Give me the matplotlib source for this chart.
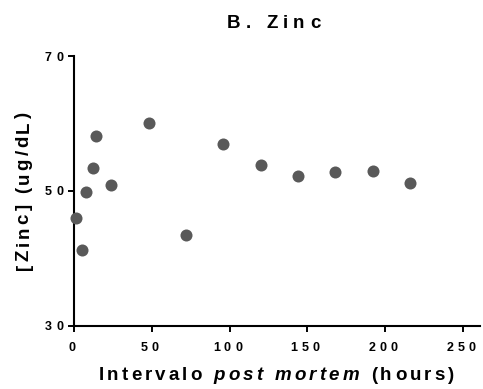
import matplotlib
matplotlib.use("Agg")
import matplotlib.pyplot as plt
from matplotlib.font_manager import FontProperties, findfont, get_font
from matplotlib.transforms import offset_copy, blended_transform_factory

plt.rcParams['font.family'] = ['Liberation Sans', 'DejaVu Sans']

# data
hours = [1, 5, 8, 12, 14, 24, 48, 72, 96, 120, 144, 168, 192, 216]
zinc = [45.9, 41.2, 49.9, 53.4, 58.2, 50.8, 60.0, 43.5, 56.9, 53.8, 52.2, 52.8, 53.0, 51.1]
xticks = [0, 50, 100, 150, 200, 250]
yticks = [30, 50, 70]
title = [('B. Zinc', 'normal')]
xlabel = [('Intervalo ', 'normal'), ('post mortem', 'italic'), (' (hours)', 'normal')]
ylabel = [('[Zinc] (ug/dL)', 'normal')]

PX = 72 / 100  # points per pixel


def advance(ch, prop):
    font = get_font(findfont(prop))
    font.set_size(prop.get_size_in_points(), 72)
    return font.load_char(ord(ch)).linearHoriAdvance / 65536


def spaced(fig, x, y, parts, trans, size, track, rotation=0, ha='center', dx=0, dy=0):
    # draw bold text letter by letter with extra tracking (Prism-like look)
    chars = []
    for s, style in parts:
        prop = FontProperties(family='Liberation Sans', weight='bold', style=style, size=size)
        for ch in s:
            chars.append((ch, prop, advance(ch, prop)))
    total = sum(a for _, _, a in chars) + track * (len(chars) - 1)
    if ha == 'center':
        pos = -(total + track) / 2
    elif ha == 'right':
        pos = -total
    else:
        pos = 0
    for ch, prop, a in chars:
        if rotation == 0:
            t = offset_copy(trans, fig=fig, x=pos + dx, y=dy, units='points')
        else:
            t = offset_copy(trans, fig=fig, x=dx, y=pos + dy, units='points')
        fig.text(x, y, ch, fontproperties=prop, transform=t, ha='left', va='baseline',
                 rotation=rotation, rotation_mode='anchor')
        pos += a + track


fig = plt.figure(figsize=(4.83, 3.89), dpi=100)
ax = fig.add_axes([74 / 483, 1 - 325.7 / 389, 406 / 483, 269.7 / 389])

ax.scatter(hours, zinc, s=75, color='#595959', linewidths=0, zorder=3, clip_on=False)

ax.set_xlim(0, 261)
ax.set_ylim(30, 70)
ax.set_xticks(xticks)
ax.set_yticks(yticks)
ax.tick_params(labelbottom=False, labelleft=False, width=1.4, length=4.5)

for s in ['top', 'right']:
    ax.spines[s].set_visible(False)
for s in ['left', 'bottom']:
    ax.spines[s].set_linewidth(1.5)

# tick labels
bx = blended_transform_factory(ax.transData, fig.transFigure)
for t in xticks:
    spaced(fig, t, 1 - 351 / 389, [(str(t), 'normal')], bx, 9, 4.2 * PX)
by = blended_transform_factory(fig.transFigure, ax.transData)
for t in yticks:
    spaced(fig, 63 / 483, t, [(str(t), 'normal')], by, 9, 4.2 * PX, ha='right', dy=-4.5 * PX)

# title and axis labels
spaced(fig, 276 / 483, 1 - 28 / 389, title, fig.transFigure, 13.5, 5.2 * PX)
spaced(fig, 278 / 483, 1 - 380 / 389, xlabel, fig.transFigure, 13.5, 3.2 * PX)
spaced(fig, 28.5 / 483, 1 - 189.5 / 389, ylabel, fig.transFigure, 13.5, 2.9 * PX, rotation=90)

fig.savefig('out.png', dpi=100)
